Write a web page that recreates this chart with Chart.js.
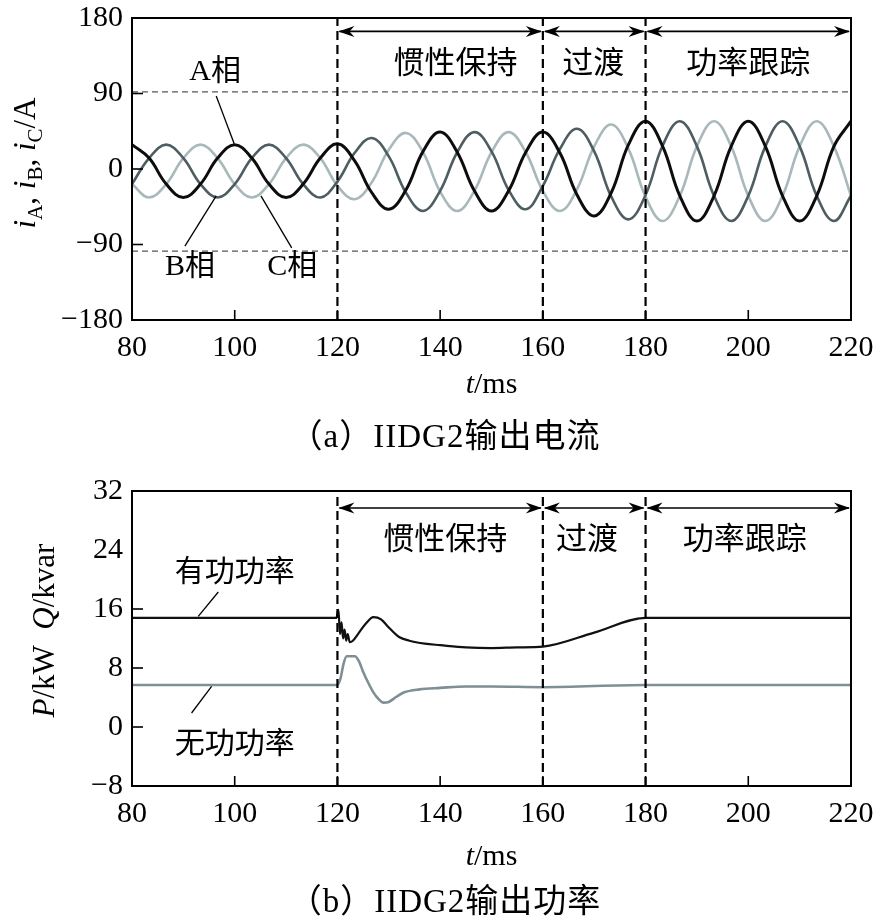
<!DOCTYPE html>
<html lang="zh">
  <head>
    <meta charset="UTF-8" />
    <title>IIDG2输出电流与输出功率</title>
    <script src="https://cdn.jsdelivr.net/npm/chart.js"></script>
    <style>
      body { margin: 0; background: #fff; }
      #wrap { position: relative; width: 879px; height: 922px; }
      canvas { position: absolute; left: 0; }
    </style>
  </head>
  <body>
    <div id="wrap">
      <canvas id="currentChart" width="879" height="460" style="top:0;width:879px;height:460px"></canvas>
      <canvas id="powerChart" width="879" height="462" style="top:460px;width:879px;height:462px"></canvas>
    </div>

    <script>
      // (a) phase currents, sampled every 60 electrical degrees (ms)
      const tMs = [80, 83.33, 86.67, 90, 93.33, 96.67, 100, 103.33, 106.67, 110, 113.33, 116.67,
        120, 123.33, 126.67, 130, 133.33, 136.67, 140, 143.33, 146.67, 150, 153.33, 156.67,
        160, 163.33, 166.67, 170, 173.33, 176.67, 180, 183.33, 186.67, 190, 193.33, 196.67,
        200, 203.33, 206.67, 210, 213.33, 216.67, 220];
      const iA = [29, 13, -18, -34, -18, 13, 29, 13, -18, -34, -18, 13,
        30, 10, -28, -48, -25, 21, 44, 20, -26, -50, -26, 20,
        44, 19, -31, -56, -28, 29, 57, 27, -32, -62, -32, 27,
        57, 27, -32, -62, -32, 27, 57];
      const iB = [-18, 13, 29, 13, -18, -34, -18, 13, 29, 13, -18, -34,
        -15, 19, 37, 15, -28, -50, -26, 20, 44, 21, -25, -48,
        -20, 24, 48, 21, -33, -60, -31, 28, 57, 27, -32, -62,
        -32, 27, 57, 27, -32, -62, -32];
      const iC = [-18, -34, -18, 13, 29, 13, -18, -34, -18, 13, 29, 13,
        -20, -36, -16, 23, 43, 20, -27, -50, -26, 20, 44, 20,
        -26, -50, -24, 27, 53, 24, -33, -62, -32, 27, 57, 27,
        -32, -62, -32, 27, 57, 27, -32];

      // (b) active / reactive power
      const tP = [80, 100, 119.8, 120.2, 120.5, 120.8, 121.1, 121.4, 121.7, 122,
        122.4, 123, 124, 125.5, 127, 128.5, 130, 132, 134, 137,
        140, 145, 150, 155, 160, 170, 180, 200, 220];
      const pKW = [14.8, 14.8, 14.8, 15.9, 12.6, 14.2, 12.0, 13.2, 11.7, 12.6,
        11.5, 11.7, 12.6, 14.0, 14.9, 14.6, 13.5, 12.2, 11.7, 11.3,
        11.1, 10.8, 10.7, 10.8, 10.9, 12.8, 14.8, 14.8, 14.8];
      const tQ = [80, 120, 120.6, 121.2, 121.8, 123.4, 124.2, 125, 126, 127, 128,
        129, 130, 131.5, 133, 136, 140, 145, 150, 160, 180, 220];
      const qKvar = [5.7, 5.7, 6.6, 8.6, 9.6, 9.6, 8.9, 7.5, 6.0, 4.7, 3.8,
        3.3, 3.4, 4.1, 4.7, 5.1, 5.3, 5.5, 5.5, 5.4, 5.7, 5.7];

      // stage boundaries and names
      const stageBounds = [120, 160, 180, 220];
      const stageNames = ["惯性保持", "过渡", "功率跟踪"];
      const refLevels = [92, -98];

      const SERIF = '"Liberation Serif", "Noto Sans CJK SC", serif';
      const CJK = '"Noto Sans CJK SC", sans-serif';

      const pts = (xs, ys) => xs.map((x, i) => ({ x, y: ys[i] }));
      const vline = (x, lo, hi) => ({
        data: [{ x, y: lo }, { x, y: hi }],
        borderColor: "#000", borderWidth: 2.2, borderDash: [9, 5], order: 0, tension: 0,
      });
      const minus = (v) => String(v).replace("-", "\u2212");

      function fontOf(p, size) {
        const s = p.sub ? Math.round(size * 0.68) : size;
        return (p.it ? "italic " : "") + s + "px " + SERIF;
      }
      function drawRich(ctx, parts, x, y, size, rotate, spacing) {
        ctx.save();
        ctx.translate(x, y);
        if (rotate) ctx.rotate(-Math.PI / 2);
        ctx.letterSpacing = (spacing || 0) + "px";
        let w = 0;
        parts.forEach((p) => { ctx.font = fontOf(p, size); w += ctx.measureText(p.text).width; });
        let cx = -w / 2;
        ctx.textBaseline = "middle";
        ctx.textAlign = "left";
        ctx.fillStyle = "#000";
        parts.forEach((p) => {
          ctx.font = fontOf(p, size);
          ctx.fillText(p.text, cx, p.sub ? size * 0.32 : 0);
          cx += ctx.measureText(p.text).width;
        });
        ctx.restore();
      }
      function seg(ctx, x1, y1, x2, y2) {
        ctx.beginPath(); ctx.moveTo(x1, y1); ctx.lineTo(x2, y2); ctx.stroke();
      }
      function head(ctx, x, y, dir) {
        ctx.beginPath();
        ctx.moveTo(x, y);
        ctx.lineTo(x - dir * 16, y - 5.5);
        ctx.lineTo(x - dir * 11, y);
        ctx.lineTo(x - dir * 16, y + 5.5);
        ctx.closePath();
        ctx.fill();
      }

      function decor(cfg) {
        return {
          id: "decor",
          afterDatasetsDraw(chart) {
            const { ctx, chartArea: a, scales: { x, y } } = chart;
            ctx.save();
            ctx.strokeStyle = "#000";
            ctx.fillStyle = "#000";
            ctx.lineWidth = 2;
            ctx.strokeRect(a.left, a.top, a.width, a.height);
            ctx.lineWidth = 1.6;
            cfg.yTicks.forEach((v) => { const py = y.getPixelForValue(v); seg(ctx, a.left, py, a.left + 11, py); });
            cfg.xTicks.forEach((v) => { const px = x.getPixelForValue(v); seg(ctx, px, a.bottom, px, a.bottom - 10); });

            // stage arrows
            const ay = y.getPixelForValue(cfg.arrowY);
            ctx.lineWidth = 1.6;
            for (let i = 0; i < stageNames.length; i++) {
              const x1 = x.getPixelForValue(stageBounds[i]);
              const x2 = x.getPixelForValue(stageBounds[i + 1]);
              seg(ctx, x1 + 2, ay, x2 - 2, ay);
              head(ctx, x1 + 1, ay, -1);
              head(ctx, x2 - 1, ay, 1);
            }
            ctx.font = "31px " + CJK;
            ctx.textAlign = "center";
            ctx.textBaseline = "middle";
            stageNames.forEach((n, i) => {
              ctx.fillText(n, x.getPixelForValue(cfg.nameX[i]), y.getPixelForValue(cfg.nameY));
            });

            // series labels with leader lines
            ctx.lineWidth = 1.3;
            cfg.labels.forEach((l) => {
              seg(ctx, x.getPixelForValue(l.from[0]), y.getPixelForValue(l.from[1]),
                x.getPixelForValue(l.to[0]), y.getPixelForValue(l.to[1]));
              ctx.font = l.size + "px " + SERIF;
              ctx.fillText(l.text, x.getPixelForValue(l.at[0]), y.getPixelForValue(l.at[1]));
            });
            ctx.restore();
          },
          afterDraw(chart) {
            const { ctx, chartArea: a } = chart;
            drawRich(ctx, cfg.yTitle, cfg.yTitleX, (a.top + a.bottom) / 2 + cfg.yTitleDy, 31, true);
            drawRich(ctx, [{ text: "t", it: 1 }, { text: "/ms" }], (a.left + a.right) / 2, cfg.xTitleY, 30, false);
            drawRich(ctx, [{ text: cfg.caption }], 445, cfg.captionY, 33, false, 1);
          },
        };
      }

      function baseScales(yMin, yMax, yStep, xH) {
        const tickFont = { family: SERIF, size: 30, lineHeight: 1 };
        return {
          x: {
            type: "linear", min: 80, max: 220,
            ticks: { stepSize: 20, font: tickFont, color: "#000", padding: 13, maxRotation: 0 },
            grid: { display: false, drawTicks: false }, border: { display: false },
            afterFit(s) { s.height = xH; s.paddingLeft = 0; s.paddingRight = 0; },
          },
          y: {
            min: yMin, max: yMax,
            ticks: { stepSize: yStep, font: tickFont, color: "#000", padding: 9, callback: minus },
            grid: { display: false, drawTicks: false }, border: { display: false },
            afterFit(s) { s.width = 132; s.paddingTop = 0; s.paddingBottom = 0; },
          },
        };
      }

      const common = {
        responsive: false,
        animation: false,
        events: [],
        plugins: { legend: { display: false }, tooltip: { enabled: false } },
        elements: { point: { radius: 0 } },
      };

      new Chart(document.getElementById("currentChart"), {
        type: "line",
        data: {
          datasets: [
            { data: pts(tMs, iA), borderColor: "#0d0d0d", borderWidth: 3, tension: 0.4, order: 1 },
            { data: pts(tMs, iB), borderColor: "#4d5d61", borderWidth: 2.6, tension: 0.4, order: 2 },
            { data: pts(tMs, iC), borderColor: "#a9b8bb", borderWidth: 2.6, tension: 0.4, order: 3 },
            ...refLevels.map((v) => ({
              data: [{ x: 80, y: v }, { x: 220, y: v }],
              borderColor: "#555", borderWidth: 1.3, borderDash: [6, 4], order: 4,
            })),
            ...stageBounds.slice(0, 3).map((b) => vline(b, -180, 180)),
          ],
        },
        options: {
          ...common,
          layout: { padding: { top: 18, right: 28, left: 0, bottom: 0 } },
          scales: baseScales(-180, 180, 90, 140),
        },
        plugins: [decor({
          yTicks: [90, 0, -90], xTicks: [100, 120, 140, 160, 180, 200],
          arrowY: 164, nameX: [143, 169.8, 200], nameY: 128,
          labels: [
            { text: "A相", size: 30, at: [96.2, 115], from: [96.4, 87], to: [99.9, 30] },
            { text: "B相", size: 30, at: [91.3, -117], from: [90.3, -92], to: [96.4, -32] },
            { text: "C相", size: 30, at: [111.2, -117], from: [111.1, -94], to: [105.1, -32] },
          ],
          yTitle: [{ text: "i", it: 1 }, { text: "A", sub: 1 }, { text: ", " }, { text: "i", it: 1 },
            { text: "B", sub: 1 }, { text: ", " }, { text: "i", it: 1 }, { text: "C", sub: 1 }, { text: "/A" }],
          yTitleX: 27, yTitleDy: -6, xTitleY: 385, captionY: 438,
          caption: "（a）IIDG2输出电流",
        })],
      });

      new Chart(document.getElementById("powerChart"), {
        type: "line",
        data: {
          datasets: [
            { data: pts(tP, pKW), borderColor: "#111", borderWidth: 2.2, cubicInterpolationMode: "monotone", order: 1 },
            { data: pts(tQ, qKvar), borderColor: "#7e9094", borderWidth: 2.6, cubicInterpolationMode: "monotone", order: 2 },
            ...stageBounds.slice(0, 3).map((b) => vline(b, -8, 32)),
          ],
        },
        options: {
          ...common,
          layout: { padding: { top: 31, right: 28, left: 0, bottom: 0 } },
          scales: baseScales(-8, 32, 8, 136),
        },
        plugins: [decor({
          yTicks: [16, 8, 0], xTicks: [100, 120, 140, 160, 180, 200],
          arrowY: 29.7, nameX: [141, 168.6, 199.3], nameY: 25.8,
          labels: [
            { text: "有功功率", size: 30, at: [100, 20.8], from: [96.8, 18.3], to: [92.9, 15.0] },
            { text: "无功功率", size: 30, at: [100, -2.4], from: [95.5, 5.5], to: [91.6, 1.9] },
          ],
          yTitle: [{ text: "P", it: 1 }, { text: "/kW  " }, { text: "Q", it: 1 }, { text: "/kvar" }],
          yTitleX: 46, yTitleDy: -8, xTitleY: 397, captionY: 443,
          caption: "（b）IIDG2输出功率",
        })],
      });
    </script>
  </body>
</html>
